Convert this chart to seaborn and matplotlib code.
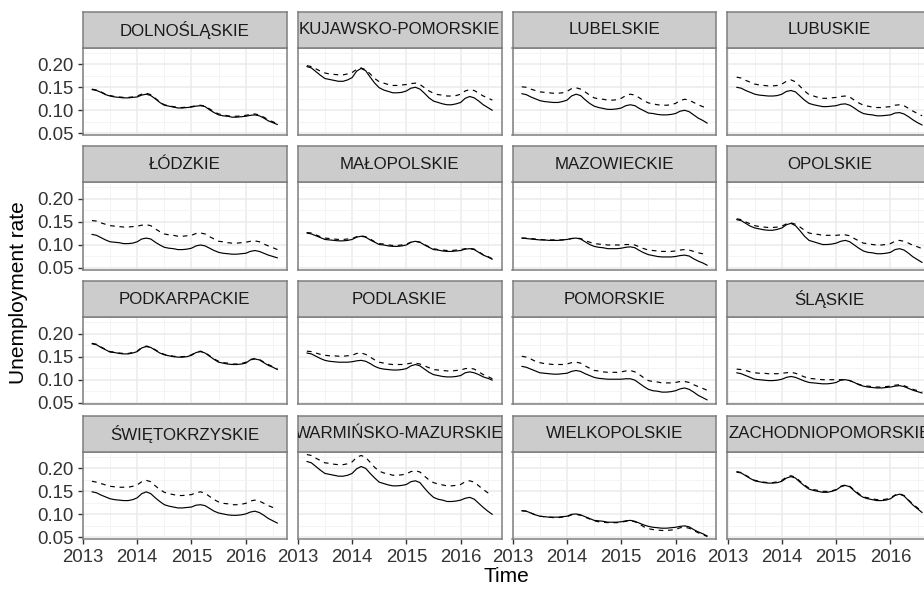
import numpy as np
import pandas as pd
import matplotlib
import matplotlib.pyplot as plt
import seaborn as sns

matplotlib.use('Agg')

# months Feb 2013 .. Jul 2016
months = pd.period_range('2013-02', '2016-07', freq='M')

regions = ['DOLNOŚLĄSKIE', 'KUJAWSKO-POMORSKIE', 'LUBELSKIE', 'LUBUSKIE',
           'ŁÓDZKIE', 'MAŁOPOLSKIE', 'MAZOWIECKIE', 'OPOLSKIE',
           'PODKARPACKIE', 'PODLASKIE', 'POMORSKIE', 'ŚLĄSKIE',
           'ŚWIĘTOKRZYSKIE', 'WARMIŃSKO-MAZURSKIE', 'WIELKOPOLSKIE', 'ZACHODNIOPOMORSKIE']

# solid line (model) and dashed line (registered) per region
dolnoslaskie_model = [.145, .143, .139, .134, .131, .129, .128, .127, .127, .128, .129, .133, .135,
                      .132, .125, .117, .111, .109, .107, .105, .105, .106, .107, .109, .110,
                      .108, .101, .095, .090, .088, .087, .085, .085, .086, .087, .089, .090,
                      .088, .083, .077, .073, .069]
dolnoslaskie_reg = [.146, .144, .140, .135, .132, .130, .129, .128, .128, .129, .131, .135, .137,
                    .134, .126, .118, .112, .110, .108, .106, .106, .107, .108, .110, .111,
                    .109, .103, .097, .092, .090, .088, .087, .087, .088, .089, .091, .092,
                    .090, .085, .079, .075, .071]
kujawsko_model = [.195, .192, .184, .176, .169, .167, .165, .163, .163, .166, .171, .185, .191,
                  .186, .172, .159, .149, .144, .141, .138, .138, .139, .142, .148, .150,
                  .146, .137, .127, .120, .117, .114, .112, .112, .114, .117, .126, .130,
                  .127, .120, .112, .106, .100]
kujawsko_reg = [.197, .195, .190, .185, .181, .179, .178, .177, .177, .179, .182, .189, .192,
                .188, .179, .169, .162, .159, .156, .154, .154, .155, .156, .158, .159,
                .156, .149, .142, .137, .134, .133, .131, .131, .132, .135, .142, .145,
                .143, .137, .131, .127, .122]
lubelskie_model = [.136, .134, .129, .125, .121, .119, .118, .117, .117, .119, .122, .131, .135,
                   .132, .123, .115, .109, .106, .104, .102, .102, .103, .105, .110, .112,
                   .110, .104, .099, .094, .093, .091, .090, .090, .091, .093, .098, .100,
                   .097, .090, .083, .078, .072]
lubelskie_reg = [.151, .150, .146, .143, .140, .139, .138, .137, .137, .138, .141, .147, .149,
                 .146, .140, .133, .127, .125, .124, .122, .122, .123, .126, .132, .135,
                 .133, .127, .121, .116, .114, .112, .111, .111, .112, .115, .121, .124,
                 .122, .117, .112, .108, .104]
lubuskie_model = [.150, .148, .143, .139, .135, .133, .132, .131, .131, .132, .135, .141, .143,
                  .140, .131, .122, .115, .112, .110, .108, .108, .109, .110, .113, .114,
                  .111, .105, .098, .093, .091, .090, .088, .088, .089, .090, .094, .095,
                  .092, .086, .079, .073, .068]
lubuskie_reg = [.172, .170, .165, .161, .157, .155, .154, .153, .153, .154, .157, .163, .166,
                .162, .152, .142, .134, .131, .128, .126, .126, .127, .128, .130, .131,
                .129, .122, .116, .111, .109, .107, .106, .106, .107, .108, .111, .112,
                .110, .104, .098, .093, .088]
lodzkie_model = [.123, .121, .116, .111, .107, .106, .105, .103, .103, .104, .107, .113, .115,
                 .113, .106, .100, .095, .093, .092, .090, .090, .091, .093, .098, .100,
                 .098, .093, .088, .084, .082, .081, .080, .080, .081, .082, .086, .088,
                 .086, .082, .078, .075, .072]
lodzkie_reg = [.153, .152, .148, .145, .142, .141, .140, .139, .139, .140, .141, .143, .144,
               .142, .135, .129, .124, .122, .121, .119, .119, .120, .121, .125, .126,
               .124, .118, .113, .108, .107, .105, .104, .104, .105, .106, .108, .109,
               .107, .102, .098, .094, .090]
malopolskie_model = [.126, .124, .120, .116, .112, .111, .110, .109, .109, .110, .112, .117, .119,
                     .117, .111, .106, .101, .100, .098, .097, .097, .098, .100, .106, .108,
                     .106, .100, .095, .090, .089, .087, .086, .086, .087, .088, .091, .092,
                     .090, .084, .078, .074, .069]
malopolskie_reg = [.127, .126, .122, .118, .115, .114, .113, .112, .112, .113, .114, .118, .120,
                   .118, .113, .107, .103, .102, .100, .099, .099, .100, .102, .106, .108,
                   .106, .101, .096, .092, .090, .089, .088, .088, .089, .090, .092, .093,
                   .091, .085, .079, .075, .070]
mazowieckie_model = [.115, .114, .113, .112, .111, .111, .110, .110, .110, .111, .112, .114, .115,
                     .113, .107, .101, .097, .095, .094, .092, .092, .092, .093, .095, .096,
                     .094, .088, .083, .079, .077, .075, .074, .074, .074, .075, .077, .078,
                     .076, .070, .065, .061, .056]
mazowieckie_reg = [.115, .115, .114, .113, .112, .111, .111, .111, .111, .111, .112, .114, .115,
                   .114, .110, .106, .103, .102, .101, .100, .100, .100, .100, .101, .101,
                   .100, .096, .092, .089, .088, .087, .086, .086, .086, .087, .089, .090,
                   .089, .086, .083, .081, .079]
opolskie_model = [.155, .153, .147, .141, .137, .135, .133, .132, .132, .134, .137, .144, .147,
                  .142, .131, .119, .110, .107, .104, .101, .101, .102, .104, .108, .110,
                  .107, .100, .093, .087, .084, .083, .081, .081, .082, .084, .090, .092,
                  .089, .082, .074, .068, .062]
opolskie_reg = [.157, .155, .150, .146, .142, .140, .139, .138, .138, .139, .141, .146, .148,
                .145, .139, .132, .126, .124, .123, .121, .121, .121, .121, .122, .122,
                .120, .114, .109, .104, .103, .101, .100, .100, .101, .103, .108, .110,
                .108, .104, .099, .096, .092]
podkarpackie_model = [.178, .176, .170, .165, .160, .159, .157, .156, .156, .158, .161, .169, .172,
                      .170, .164, .158, .154, .152, .150, .149, .149, .150, .153, .159, .161,
                      .158, .151, .144, .138, .136, .134, .133, .133, .134, .136, .143, .145,
                      .143, .137, .131, .127, .122]
podkarpackie_reg = [.179, .177, .171, .166, .161, .160, .158, .157, .157, .159, .162, .170, .173,
                    .171, .165, .159, .155, .153, .151, .150, .150, .151, .154, .160, .162,
                    .159, .152, .145, .140, .137, .136, .134, .134, .135, .138, .144, .146,
                    .144, .138, .133, .128, .124]
podlaskie_model = [.158, .156, .151, .146, .142, .140, .139, .138, .138, .138, .139, .141, .142,
                   .140, .135, .129, .125, .123, .122, .121, .121, .122, .124, .130, .133,
                   .130, .123, .116, .111, .109, .107, .106, .106, .107, .109, .115, .117,
                   .115, .111, .106, .103, .099]
podlaskie_reg = [.162, .161, .158, .155, .153, .152, .152, .151, .151, .152, .153, .157, .158,
                 .155, .149, .143, .138, .136, .134, .133, .133, .133, .134, .136, .136,
                 .134, .130, .126, .122, .121, .120, .119, .119, .120, .121, .124, .125,
                 .123, .117, .111, .107, .102]
pomorskie_model = [.129, .127, .123, .119, .115, .114, .113, .112, .112, .113, .114, .118, .120,
                   .118, .113, .109, .105, .103, .102, .101, .101, .101, .101, .102, .102,
                   .099, .092, .085, .079, .076, .075, .073, .073, .074, .076, .080, .082,
                   .079, .073, .066, .061, .056]
pomorskie_reg = [.151, .149, .145, .140, .137, .135, .134, .133, .133, .133, .134, .137, .138,
                 .136, .130, .125, .120, .119, .117, .116, .116, .116, .117, .119, .120,
                 .117, .111, .104, .098, .096, .095, .093, .093, .093, .094, .096, .096,
                 .094, .089, .085, .081, .077]
slaskie_model = [.115, .113, .109, .105, .101, .100, .099, .098, .098, .099, .101, .105, .107,
                 .105, .101, .097, .094, .093, .092, .091, .091, .092, .094, .099, .100,
                 .098, .094, .089, .086, .084, .083, .082, .082, .083, .084, .086, .087,
                 .085, .081, .077, .074, .071]
slaskie_reg = [.123, .122, .120, .117, .115, .114, .114, .113, .113, .113, .114, .115, .116,
               .114, .110, .106, .103, .102, .101, .100, .100, .100, .100, .100, .100,
               .098, .094, .090, .087, .086, .085, .084, .084, .085, .086, .088, .089,
               .087, .083, .079, .076, .073]
swietokrzyskie_model = [.149, .147, .142, .138, .134, .132, .131, .130, .130, .132, .136, .145, .149,
                        .145, .136, .128, .121, .118, .116, .114, .114, .115, .116, .120, .121,
                        .119, .113, .107, .103, .101, .099, .098, .098, .099, .101, .105, .107,
                        .104, .098, .091, .086, .081]
swietokrzyskie_reg = [.172, .170, .167, .164, .161, .160, .159, .159, .159, .161, .164, .171, .174,
                      .171, .162, .154, .148, .145, .143, .141, .141, .142, .143, .147, .149,
                      .146, .139, .132, .127, .124, .123, .121, .121, .122, .124, .129, .131,
                      .129, .124, .119, .115, .111]
warminsko_model = [.215, .212, .204, .196, .189, .187, .185, .183, .183, .185, .189, .199, .204,
                   .200, .189, .179, .170, .167, .164, .162, .162, .163, .165, .171, .173,
                   .169, .157, .146, .137, .133, .131, .128, .128, .129, .131, .135, .137,
                   .133, .124, .115, .107, .100]
warminsko_reg = [.230, .228, .222, .217, .212, .211, .209, .208, .208, .210, .214, .224, .228,
                 .224, .213, .202, .194, .190, .188, .185, .185, .186, .188, .193, .195,
                 .192, .183, .175, .169, .166, .164, .162, .162, .163, .165, .171, .173,
                 .170, .162, .154, .147, .141]
wielkopolskie_model = [.108, .107, .103, .099, .096, .095, .094, .094, .094, .095, .096, .100, .101,
                       .099, .095, .091, .087, .086, .085, .083, .083, .083, .084, .086, .087,
                       .085, .081, .077, .074, .072, .071, .070, .070, .071, .072, .074, .075,
                       .073, .067, .062, .058, .053]
wielkopolskie_reg = [.108, .107, .103, .099, .096, .095, .094, .093, .093, .094, .095, .099, .100,
                     .098, .094, .090, .086, .084, .083, .082, .082, .082, .083, .085, .086,
                     .084, .079, .073, .069, .067, .066, .065, .065, .066, .067, .071, .072,
                     .070, .065, .060, .056, .052]
zachodnio_model = [.192, .190, .184, .178, .173, .171, .169, .168, .168, .169, .172, .179, .182,
                   .179, .170, .162, .155, .152, .150, .148, .148, .150, .153, .160, .163,
                   .160, .151, .143, .137, .134, .132, .130, .130, .131, .134, .141, .144,
                   .140, .130, .120, .112, .104]
zachodnio_reg = [.193, .191, .185, .179, .174, .172, .170, .169, .169, .171, .174, .181, .184,
                 .181, .172, .164, .157, .154, .152, .150, .150, .151, .154, .161, .164,
                 .161, .153, .145, .138, .136, .134, .132, .132, .133, .136, .142, .145,
                 .141, .131, .122, .114, .106]

series_by_region = {
    'DOLNOŚLĄSKIE': (dolnoslaskie_model, dolnoslaskie_reg),
    'KUJAWSKO-POMORSKIE': (kujawsko_model, kujawsko_reg),
    'LUBELSKIE': (lubelskie_model, lubelskie_reg),
    'LUBUSKIE': (lubuskie_model, lubuskie_reg),
    'ŁÓDZKIE': (lodzkie_model, lodzkie_reg),
    'MAŁOPOLSKIE': (malopolskie_model, malopolskie_reg),
    'MAZOWIECKIE': (mazowieckie_model, mazowieckie_reg),
    'OPOLSKIE': (opolskie_model, opolskie_reg),
    'PODKARPACKIE': (podkarpackie_model, podkarpackie_reg),
    'PODLASKIE': (podlaskie_model, podlaskie_reg),
    'POMORSKIE': (pomorskie_model, pomorskie_reg),
    'ŚLĄSKIE': (slaskie_model, slaskie_reg),
    'ŚWIĘTOKRZYSKIE': (swietokrzyskie_model, swietokrzyskie_reg),
    'WARMIŃSKO-MAZURSKIE': (warminsko_model, warminsko_reg),
    'WIELKOPOLSKIE': (wielkopolskie_model, wielkopolskie_reg),
    'ZACHODNIOPOMORSKIE': (zachodnio_model, zachodnio_reg),
}

# long table
time = months.year + months.month / 12
rows = []
for reg in regions:
    model, registered = series_by_region[reg]
    for t, a, b in zip(time, model, registered):
        rows.append((reg, t, a, 'model'))
        rows.append((reg, t, b, 'registered'))
df = pd.DataFrame(rows, columns=['region', 'time', 'rate', 'series'])

sns.set_theme(style='white')
plt.rcParams['font.family'] = ['Liberation Sans', 'DejaVu Sans']

W, H = 924, 592
fig = plt.figure(figsize=(W / 100, H / 100), dpi=100)

pan_w, pan_h, strip_h = 204, 87.3, 36
border = '#7F7F7F'
xlim = (2012.996, 2016.754)
ylim = (0.0463, 0.236)

for k, reg in enumerate(regions):
    r, c = divmod(k, 4)
    left = 82.7 + 214.9 * c
    top = 47.7 + 134.7 * r
    ax = fig.add_axes([left / W, 1 - (top + pan_h) / H, pan_w / W, pan_h / H])
    sub = df[df['region'] == reg]
    sns.lineplot(data=sub, x='time', y='rate', style='series',
                 style_order=['model', 'registered'],
                 dashes={'model': '', 'registered': (4, 4)},
                 color='black', lw=0.85, legend=False, ax=ax)
    ax.set_xlim(xlim)
    ax.set_ylim(ylim)
    ax.set_xticks([2013, 2014, 2015, 2016])
    ax.set_xticks([2013.5, 2014.5, 2015.5, 2016.5], minor=True)
    ax.set_yticks([0.05, 0.10, 0.15, 0.20])
    ax.set_yticks([0.075, 0.125, 0.175, 0.225], minor=True)
    ax.set_yticklabels(['0.05', '0.10', '0.15', '0.20'])
    ax.grid(which='major', color='#EBEBEB', lw=1.1)
    ax.grid(which='minor', color='#F4F4F4', lw=0.7)
    ax.set_axisbelow(True)
    ax.set_xlabel('')
    ax.set_ylabel('')
    for s in ax.spines.values():
        s.set_color(border)
        s.set_linewidth(1.1)
    ax.tick_params(which='minor', length=0)
    ax.tick_params(which='major', length=3.6, width=1.0, color='#333333',
                   labelsize=13.4, labelcolor='#333333', pad=3.2,
                   left=(c == 0), labelleft=(c == 0),
                   bottom=(r == 3), labelbottom=(r == 3))

    # facet strip
    sx = fig.add_axes([left / W, 1 - top / H, pan_w / W, strip_h / H])
    sx.set_facecolor('#CCCCCC')
    sx.set_xticks([])
    sx.set_yticks([])
    for s in sx.spines.values():
        s.set_color(border)
        s.set_linewidth(1.1)
    txt = sx.text(0.5, 0.5, reg, ha='center', va='center', fontsize=12.2,
                  color='#1A1A1A', transform=sx.transAxes)
    txt.set_clip_on(True)

fig.text(19 / W, 1 - 293 / H, 'Unemployment rate', rotation=90,
         ha='center', va='center', fontsize=15, color='black')
fig.text(506 / W, 1 - 577 / H, 'Time', ha='center', va='center',
         fontsize=15, color='black')

plt.savefig('out.png', dpi=100)
plt.close()
